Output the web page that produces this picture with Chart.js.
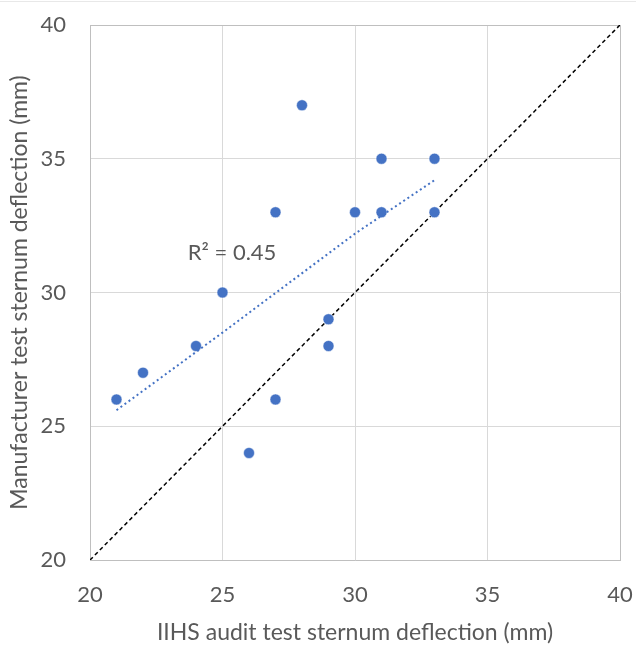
<!DOCTYPE html>
<html>
<head>
<meta charset="utf-8">
<script src="https://cdn.jsdelivr.net/npm/chart.js@4/dist/chart.umd.min.js"></script>
<style>
  html, body { margin: 0; padding: 0; background: #fff; }
  #wrap { width: 636px; height: 650px; position: relative; }
</style>
</head>
<body>
<div id="wrap"><canvas id="chart"></canvas></div>
<script>
// IIHS audit test vs manufacturer test sternum deflection (mm)
const iihsX = [21, 22, 24, 25, 26, 27, 27, 28, 29, 29, 30, 31, 31, 33, 33];
const manufY = [26, 27, 28, 30, 24, 33, 26, 37, 29, 28, 33, 35, 33, 35, 33];

// trendline
const trendX = [21, 25, 30, 33];
const trendY = [25.6, 28.5, 32.2, 34.2];

// y = x reference line
const refX = [20, 40];
const refY = [20, 40];

const tickValues = [20, 25, 30, 35, 40];
const r2Label = 'R\u00B2 = 0.45';

const blue = '#4472C4';
const gray = '#595959';
const gridGray = '#d9d9d9';
const boxGray = '#bfbfbf';
const font = 'Lato, "Open Sans", sans-serif';

const toXY = (xs, ys) => xs.map((x, i) => ({ x: x, y: ys[i] }));

const extras = {
  id: 'extras',
  beforeDraw(chart) {
    const ctx = chart.ctx;
    ctx.save();
    ctx.strokeStyle = '#e8e8e8';
    ctx.lineWidth = 1;
    ctx.beginPath();
    ctx.moveTo(0, 1.5);
    ctx.lineTo(chart.width, 1.5);
    ctx.stroke();
    ctx.restore();
  },
  afterDatasetsDraw(chart) {
    const { ctx, scales } = chart;
    ctx.save();
    ctx.font = '22px ' + font;
    ctx.fillStyle = gray;
    ctx.textAlign = 'center';
    ctx.textBaseline = 'middle';
    ctx.fillText(r2Label, scales.x.getPixelForValue(25.36), scales.y.getPixelForValue(31.48));
    ctx.restore();
  }
};

const gridColor = (c) => (c.tick && c.tick.value === 40 ? boxGray : gridGray);

new Chart(document.getElementById('chart'), {
  type: 'scatter',
  data: {
    datasets: [
      {
        label: 'y = x',
        data: toXY(refX, refY),
        showLine: true,
        borderColor: '#000',
        borderWidth: 1.5,
        borderDash: [4, 3],
        pointRadius: 0,
        order: 3
      },
      {
        label: 'Vehicles',
        data: toXY(iihsX, manufY),
        backgroundColor: blue,
        borderColor: '#fff',
        borderWidth: 0.5,
        pointRadius: 5.5,
        order: 2
      },
      {
        label: 'Trend',
        data: toXY(trendX, trendY),
        showLine: true,
        borderColor: blue,
        borderWidth: 2,
        borderDash: [2, 3],
        pointRadius: 0,
        order: 1
      }
    ]
  },
  options: {
    responsive: true,
    maintainAspectRatio: false,
    animation: false,
    layout: { padding: { top: 25, right: 16, left: 0, bottom: 0 } },
    plugins: {
      legend: { display: false },
      tooltip: { enabled: false }
    },
    scales: {
      x: {
        type: 'linear',
        min: 20,
        max: 40,
        afterBuildTicks: (s) => { s.ticks = tickValues.map(v => ({ value: v })); },
        afterFit: (s) => { s.height = 90; s.paddingLeft = 0; s.paddingRight = 0; },
        grid: { color: gridColor, lineWidth: 1, drawTicks: false },
        border: { color: boxGray },
        ticks: { color: gray, font: { size: 22, family: font }, padding: 22 },
        title: {
          display: true,
          text: 'IIHS audit test sternum deflection (mm)',
          color: gray,
          font: { size: 23, family: font },
          padding: { top: 0, bottom: 4 }
        }
      },
      y: {
        type: 'linear',
        min: 20,
        max: 40,
        afterBuildTicks: (s) => { s.ticks = tickValues.map(v => ({ value: v })); },
        afterFit: (s) => { s.width = 90; s.paddingTop = 0; s.paddingBottom = 0; },
        grid: { color: gridColor, lineWidth: 1, drawTicks: false },
        border: { color: boxGray },
        ticks: { color: gray, font: { size: 22, family: font }, padding: 24 },
        title: {
          display: true,
          text: 'Manufacturer test sternum deflection (mm)',
          color: gray,
          font: { size: 23, family: font },
          padding: { top: 6, bottom: 0 }
        }
      }
    }
  },
  plugins: [extras]
});
</script>
</body>
</html>
